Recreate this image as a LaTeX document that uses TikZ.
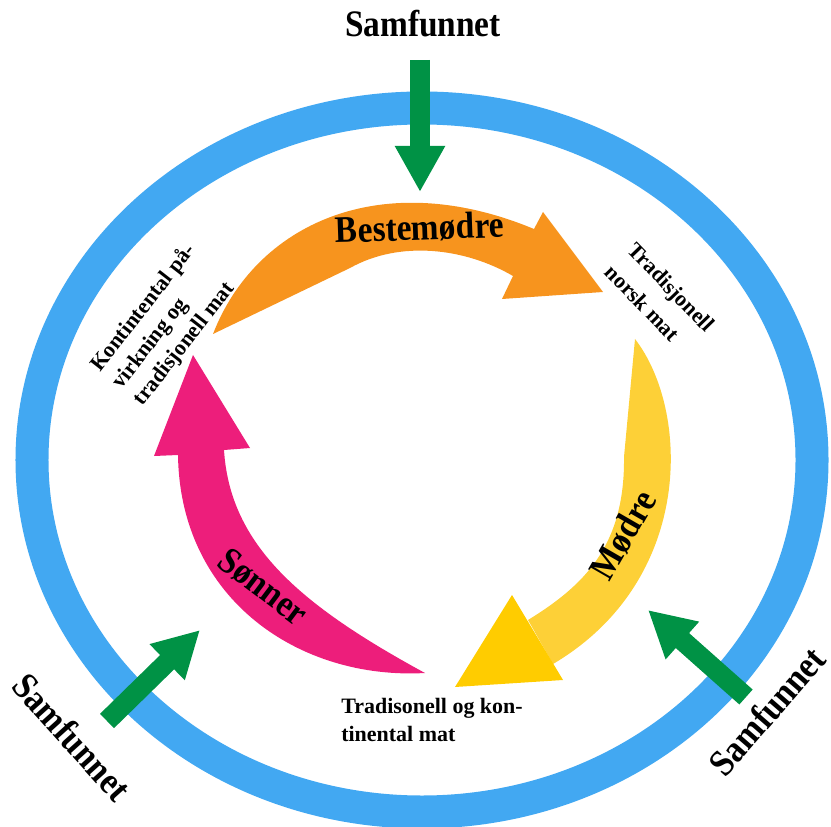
\documentclass[tikz,border=0pt]{standalone}
\usepackage{fontspec}
\setmainfont{Liberation Serif}
\usetikzlibrary{arrows.meta}
\definecolor{ringblue}{RGB}{66,168,242}
\definecolor{samgreen}{RGB}{0,146,69}
\definecolor{besteorange}{RGB}{247,148,30}
\definecolor{modreyellow}{RGB}{253,208,55}
\definecolor{modrehead}{RGB}{255,204,0}
\definecolor{sonnerpink}{RGB}{237,30,123}
\begin{document}
\begin{tikzpicture}[
  x=0.2mm, y=-0.2mm,
  biglbl/.style={font=\bfseries\fontsize{19}{22}\selectfont, inner sep=0pt, rotate=#1, yscale=1.12},
  biglbl/.default=0,
  smalllbl/.style={font=\bfseries\fontsize{12.5}{15.5}\selectfont, align=left, inner sep=0pt, rotate=#1},
  smalllbl/.default=0,
  push/.style={draw=samgreen, line width=4mm, -{Triangle[width=9.4mm, length=9.2mm]}},
  ring/.style={draw=ringblue, line width=6.6mm}
]
\useasboundingbox (0,0) rectangle (831,827);
\draw[ring] (422,460) ellipse [x radius=78mm, y radius=70.4mm];

\coordinate (topTail) at (420,60);
\coordinate (topTip) at (420,192);
\coordinate (leftTail) at (107,721);
\coordinate (leftTip) at (200,630);
\coordinate (rightTail) at (746,697);
\coordinate (rightTip) at (648,610);
\draw[push] (topTail) -- (topTip);
\draw[push] (leftTail) -- (leftTip);
\draw[push] (rightTail) -- (rightTip);

\fill[besteorange] (213,334) .. controls (255,225) and (380,165) .. (534,229)
  -- (543,212) -- (603,292) -- (502,299) -- (513,276)
  .. controls (465,248) and (400,240) .. (350,268) -- cycle;

\fill[modreyellow] (635,339) .. controls (690,410) and (695,580) .. (553,664)
  -- (528,620) .. controls (585,585) and (625,545) .. (624,457) -- cycle;
\fill[modrehead] (455,687) -- (512,595) -- (563,680) -- cycle;

\fill[sonnerpink] (425,673) .. controls (300,680) and (180,600) .. (178,455)
  -- (154,456) -- (193,355) -- (250,448) -- (224,450)
  .. controls (230,545) and (300,605) .. (425,673) -- cycle;

\node[biglbl, anchor=base] (samTop) at (423,37) {Samfunnet};
\node[biglbl=2, anchor=base] (bestemodre) at (420,240) {Bestemødre};
\node[biglbl=60] (modre) at (623,535) {Mødre};
\node[biglbl=-37] (sonner) at (263,587) {Sønner};
\node[biglbl=-48] (samLeft) at (72,737) {Samfunnet};
\node[biglbl=49] (samRight) at (767,711) {Samfunnet};
\node[smalllbl=-46, font=\bfseries\fontsize{12.5}{18}\selectfont] (norskmat) at (660,298) {Tradisjonell\\norsk mat};
\node[smalllbl=52] (kontmat) at (165,325) {Kontintental på-\\virkning og\\tradisjonell mat};
\node[smalllbl] (tradkont) at (432,720) {Tradisonell og kon-\\tinental mat};
\end{tikzpicture}
\end{document}
